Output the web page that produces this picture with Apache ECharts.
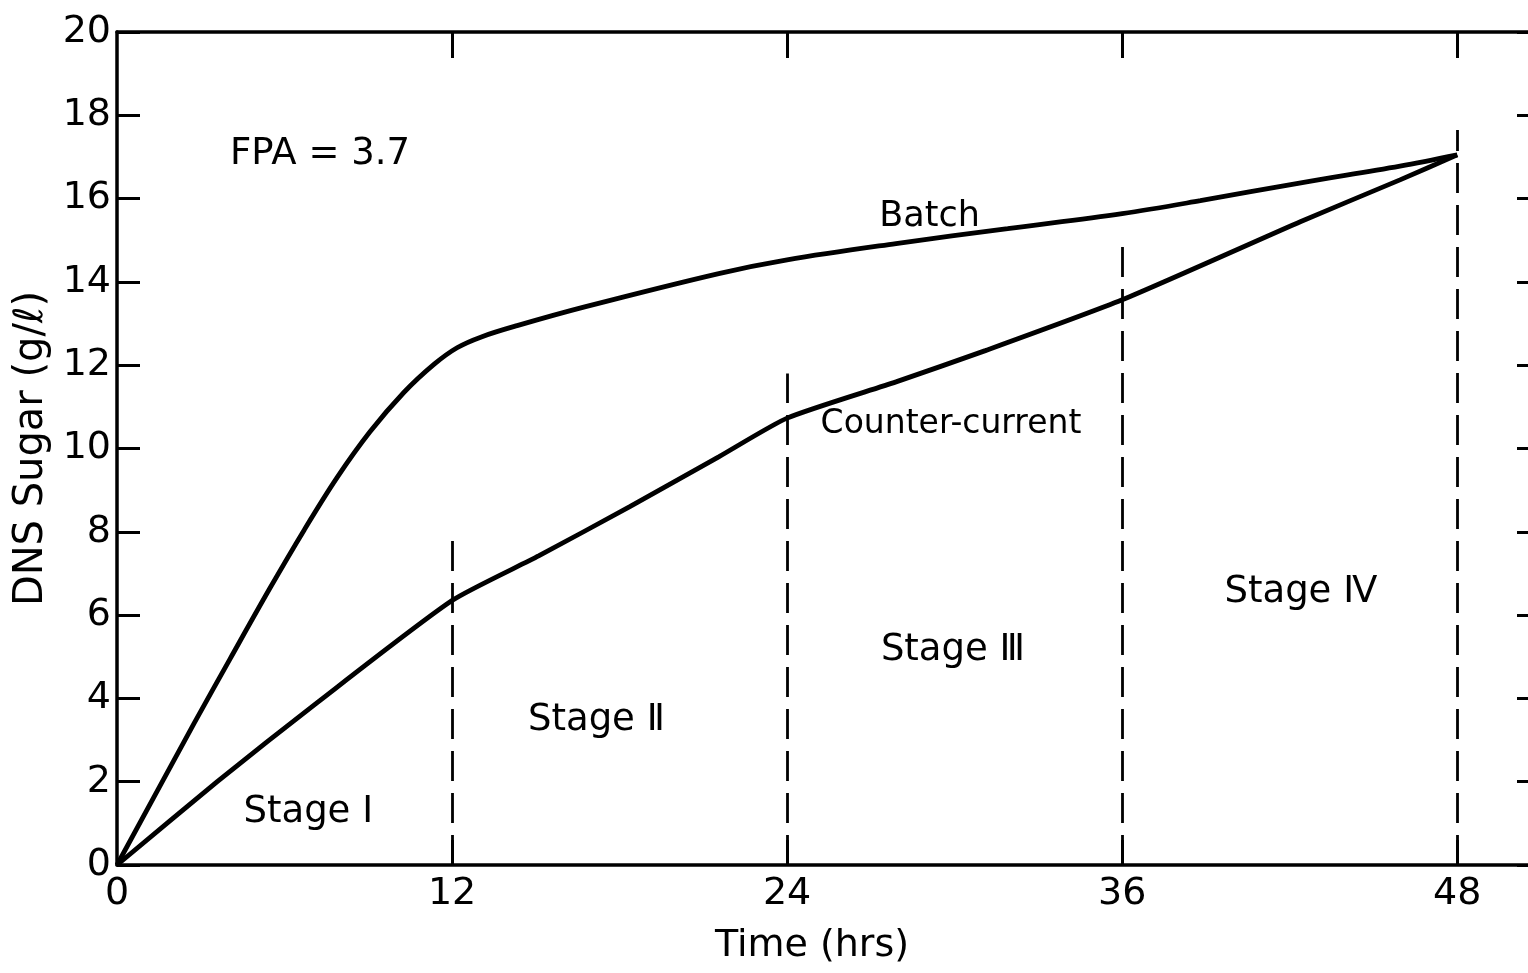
<!DOCTYPE html>
<html>
<head>
<meta charset="utf-8">
<script src="https://cdn.jsdelivr.net/npm/echarts@6/dist/echarts.min.js"></script>
<style>
  html, body { margin: 0; padding: 0; background: #ffffff; overflow: hidden; }
  /* the frame's right edge runs just past the window, as on the printed figure */
  #chart { width: 1541px; height: 973px; }
</style>
</head>
<body>
<div id="chart"></div>
<script>
// Reducing sugar (DNS) vs. time, batch vs. counter-current hydrolysis
const batchTime  = [0, 2.76, 4.05, 5.48, 6.7, 7.88, 9.06, 10.28, 11.35, 12.18, 13.05, 14.33, 16.75, 21.55, 24, 27.9, 31.9, 36, 38.8, 42.4, 45.95, 48];
const batchSugar = [0, 3.4, 4.95, 6.65, 8.04, 9.3, 10.4, 11.35, 12.02, 12.42, 12.68, 12.95, 13.4, 14.2, 14.53, 14.92, 15.28, 15.64, 15.95, 16.38, 16.78, 17.05];

const ccTime  = [0, 3.59, 7.17, 12, 15.1, 18.35, 21.55, 24, 27.9, 31.1, 36, 42.4, 45.95, 48];
const ccSugar = [0, 2.0, 3.9, 6.35, 7.42, 8.6, 9.8, 10.73, 11.6, 12.35, 13.57, 15.45, 16.45, 17.05];

// Stage boundaries (hrs) and the height each dashed divider reaches (g/l)
const stageEdges    = [12, 24, 36, 48];
const stageEdgeTops = [7.9, 11.8, 14.9, 17.65];
const stageNames    = ['Stage \u2160', 'Stage \u2161', 'Stage \u2162', 'Stage \u2163'];

const xTickLabels = [0, 12, 24, 36, 48];
const yTickLabels = [0, 2, 4, 6, 8, 10, 12, 14, 16, 18, 20];

const seriesNames = ['Batch', 'Counter-current'];
const fpaNote = 'FPA = 3.7';

const FONT = 'DejaVu Sans';
const INK = '#000000';

const chart = echarts.init(document.getElementById('chart'), null, { renderer: 'canvas' });

const zip = (xs, ys) => xs.map((x, i) => [x, ys[i]]);

const axisLine = { show: true, onZero: false, lineStyle: { color: INK, width: 3.5 } };

const option = {
  animation: false,
  backgroundColor: '#ffffff',
  grid: { left: 117, right: 0, top: 32, bottom: 108, containLabel: false },
  xAxis: [
    {
      type: 'value', position: 'bottom', min: 0, max: 51, interval: 12,
      axisLine: axisLine,
      axisTick: { show: true, inside: true, length: 25, customValues: stageEdges, lineStyle: { color: INK, width: 3 } },
      axisLabel: { customValues: xTickLabels, fontFamily: FONT, fontSize: 38, color: INK, margin: 10 },
      splitLine: { show: false },
      name: 'Time (hrs)', nameLocation: 'middle', nameGap: 62,
      nameTextStyle: { fontFamily: FONT, fontSize: 38, color: INK, padding: [0, 34, 0, 0] }
    },
    {
      type: 'value', position: 'top', min: 0, max: 51, interval: 12,
      axisLine: axisLine,
      axisTick: { show: true, inside: true, length: 26, customValues: stageEdges, lineStyle: { color: INK, width: 3 } },
      axisLabel: { show: false },
      splitLine: { show: false }
    }
  ],
  yAxis: [
    {
      type: 'value', position: 'left', min: 0, max: 20, interval: 2,
      axisLine: axisLine,
      axisTick: { show: true, inside: true, length: 23, customValues: yTickLabels, lineStyle: { color: INK, width: 3 } },
      axisLabel: { customValues: yTickLabels, fontFamily: FONT, fontSize: 38, color: INK, margin: 6 },
      splitLine: { show: false },
      name: 'DNS Sugar (g/\u2113)', nameLocation: 'middle', nameGap: 64, nameRotate: 90,
      nameTextStyle: { fontFamily: FONT, fontSize: 40, color: INK }
    },
    {
      type: 'value', position: 'right', min: 0, max: 20, interval: 2,
      axisLine: axisLine,
      axisTick: { show: true, inside: true, length: 24, lineStyle: { color: INK, width: 3 } },
      axisLabel: { show: false },
      splitLine: { show: false }
    }
  ],
  series: [
    {
      name: seriesNames[0], type: 'line', xAxisIndex: 0, yAxisIndex: 0,
      data: zip(batchTime, batchSugar),
      showSymbol: false, smooth: 0.35,
      lineStyle: { color: INK, width: 4.8 }, z: 5
    },
    {
      name: seriesNames[1], type: 'line', xAxisIndex: 0, yAxisIndex: 0,
      data: zip(ccTime, ccSugar),
      showSymbol: false, smooth: 0.2,
      lineStyle: { color: INK, width: 4.8 }, z: 5,
      markLine: {
        silent: true, symbol: ['none', 'none'], animation: false,
        label: { show: false },
        lineStyle: { color: INK, width: 2.8, type: [30, 12] },
        data: stageEdges.map((t, i) => [{ coord: [t, 0] }, { coord: [t, stageEdgeTops[i]] }])
      }
    }
  ]
};

chart.setOption(option);

// Text annotations placed in data space (hrs, g/l)
function place(t, v) { return chart.convertToPixel({ gridIndex: 0 }, [t, v]); }

const notes = [
  { text: fpaNote,        at: [4.05, 17.05],  align: 'left',   size: 37 },
  { text: seriesNames[0], at: [29.1, 15.56],  align: 'center', size: 35 },
  { text: seriesNames[1], at: [25.2, 10.59],  align: 'left',   size: 33 },
  { text: stageNames[0],  at: [6.85, 1.27],   align: 'center', size: 37 },
  { text: stageNames[1],  at: [17.17, 3.48],  align: 'center', size: 37 },
  { text: stageNames[2],  at: [29.94, 5.16],  align: 'center', size: 37 },
  { text: stageNames[3],  at: [42.4, 6.55],   align: 'center', size: 37 }
];

chart.setOption({
  graphic: notes.map(n => {
    const p = place(n.at[0], n.at[1]);
    return {
      type: 'text', x: p[0], y: p[1], silent: true, z: 10,
      style: { text: n.text, fontFamily: FONT, fontSize: n.size, fill: INK, align: n.align, verticalAlign: 'middle' }
    };
  })
});
</script>
</body>
</html>
